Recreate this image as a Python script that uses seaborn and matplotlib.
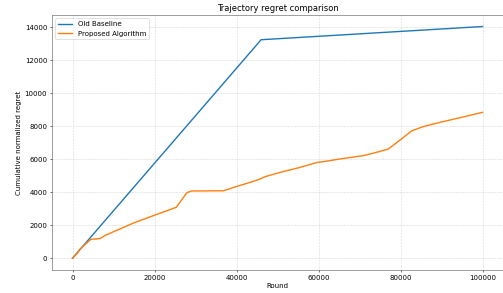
import pandas as pd
import matplotlib
matplotlib.use("Agg")
import matplotlib.pyplot as plt
import seaborn as sns

# old baseline: cumulative regret per round
baseline_rounds = [0, 46000, 100000]
baseline_regret = [0, 13250, 14050]

# proposed algorithm
proposed_rounds = [0, 700, 1200, 1600, 2300, 4500, 6700, 8000, 10400, 15000, 20100,
                   25300, 27900, 29100, 36800, 40000, 43300, 45700, 47000, 51000,
                   55500, 59500, 62800, 65200, 70900, 73800, 77000, 79900, 82700,
                   85500, 89600, 94500, 100000]
proposed_regret = [0, 200, 300, 500, 670, 1150, 1190, 1390, 1650, 2150, 2620,
                   3090, 3980, 4080, 4090, 4350, 4600, 4800, 4950, 5230,
                   5510, 5800, 5920, 6020, 6220, 6400, 6620, 7170, 7720,
                   7980, 8240, 8520, 8850]

df_old = pd.DataFrame({"Round": baseline_rounds, "regret": baseline_regret})
df_new = pd.DataFrame({"Round": proposed_rounds, "regret": proposed_regret})

fig, ax = plt.subplots(figsize=(10.06, 5.86), dpi=50)
sns.lineplot(data=df_old, x="Round", y="regret", label="Old Baseline", color="tab:blue", linewidth=2, ax=ax)
sns.lineplot(data=df_new, x="Round", y="regret", label="Proposed Algorithm", color="tab:orange", linewidth=2, ax=ax)

ax.set_title("Trajectory regret comparison", fontsize=12)
ax.set_xlabel("Round", fontsize=10)
ax.set_ylabel("Cumulative normalized regret", fontsize=10)
ax.tick_params(labelsize=10)
ax.grid(True, linestyle="--", alpha=0.5)
for s in ax.spines.values():
    s.set_color("#555555")
ax.legend(loc="upper left", fontsize=10)

fig.subplots_adjust(left=0.1034, right=1.0, bottom=0.079, top=0.949)
fig.savefig("out.png", dpi=50)
plt.close()
